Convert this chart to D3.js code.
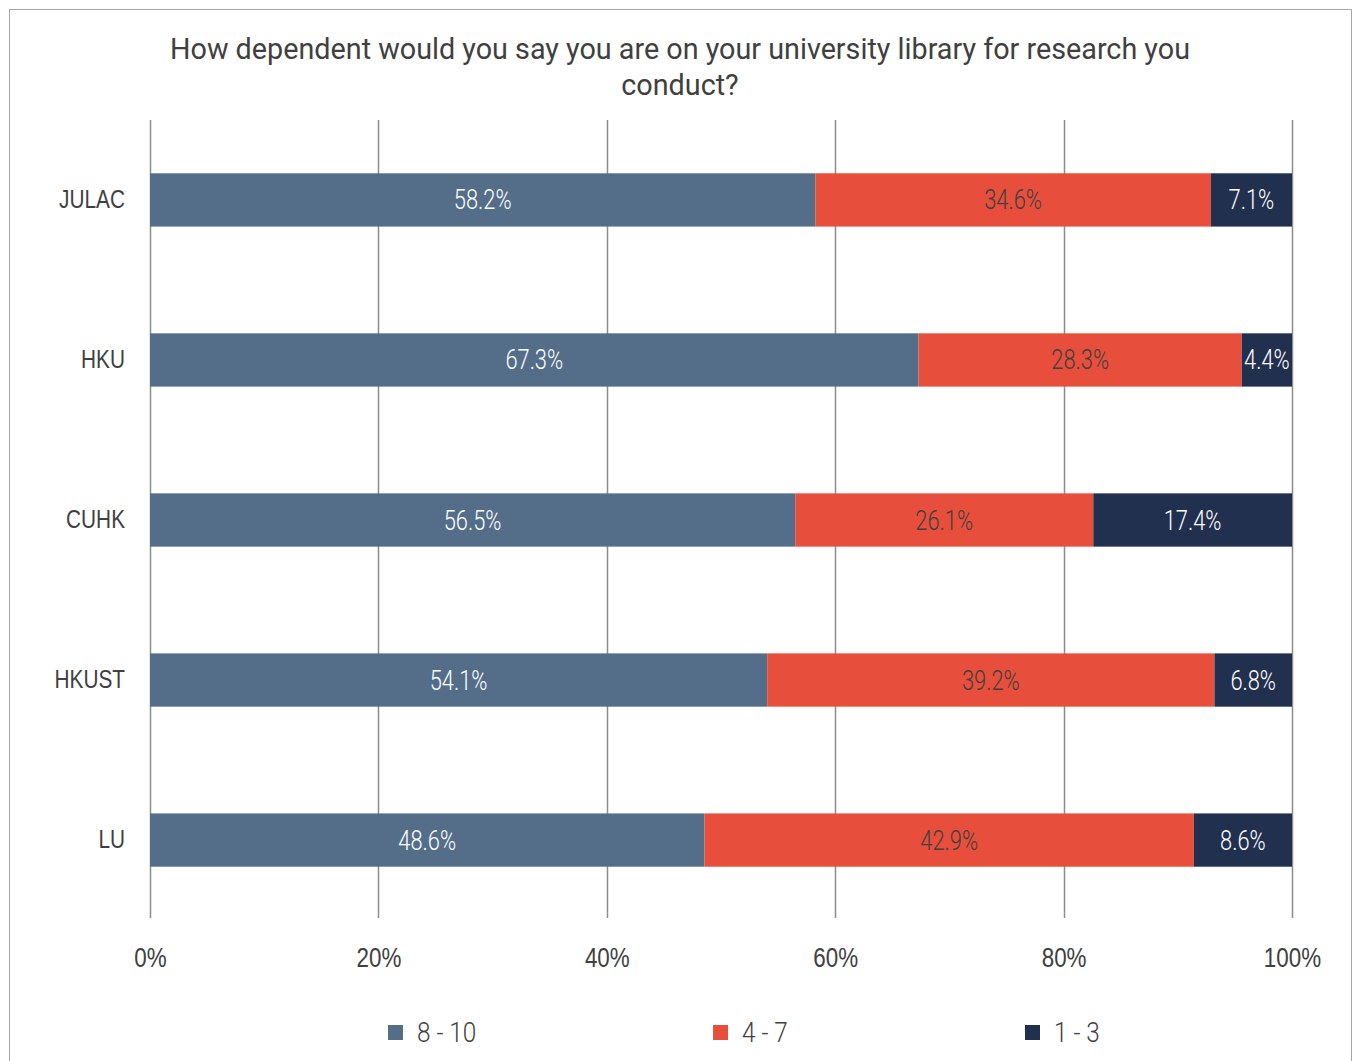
<!DOCTYPE html>
<html><head><meta charset="utf-8">
<script src="https://cdn.jsdelivr.net/npm/d3@7"></script>
<style>
body{margin:0;background:#fff;}
svg{display:block;font-family:"Roboto","Liberation Sans",sans-serif;}
</style></head>
<body><svg id="c" width="1353" height="1061"></svg>
<script>
const categories = ["JULAC","HKU","CUHK","HKUST","LU"];
const seriesNames = ["8 - 10","4 - 7","1 - 3"];
const high = [58.2,67.3,56.5,54.1,48.6];
const mid = [34.6,28.3,26.1,39.2,42.9];
const low = [7.1,4.4,17.4,6.8,8.6];
const tickValues = [0,0.2,0.4,0.6,0.8,1];
const colors = ["#546E8A","#E84E3C","#22304F"];
const labelColors = ["#ffffff","#404040","#ffffff"];
const title = ["How dependent would you say you are on your university library for research you","conduct?"];

const svg = d3.select("#c");
svg.append("rect").attr("x",9.5).attr("y",9.5).attr("width",1342).attr("height",1060)
  .attr("fill","#fff").attr("stroke","#a6a6a6").attr("stroke-width",1);

const rows = categories.map((c,i)=>({cat:c,"8 - 10":high[i],"4 - 7":mid[i],"1 - 3":low[i]}));
const stack = d3.stack().keys(seriesNames).offset(d3.stackOffsetExpand)(rows);

const x = d3.scaleLinear().domain([0,1]).range([150,1292]);
const y = d3.scaleBand().domain(categories).range([120,920]).paddingInner(0.667).paddingOuter(0.333);

function condense(sel, k){
  sel.each(function(){
    const w = this.getComputedTextLength();
    d3.select(this).attr("textLength", w*k).attr("lengthAdjust","spacingAndGlyphs");
  });
}

// title
const titleText = svg.append("text").attr("text-anchor","middle")
  .attr("fill","#404040").style("font-size","29px")
  .selectAll("tspan").data(title).join("tspan")
  .attr("x",680).attr("y",(d,i)=>59+i*36).text(d=>d);
const kTitle = 1020 / titleText.nodes()[0].getComputedTextLength();
condense(titleText, kTitle);

// gridlines
svg.append("g").selectAll("line").data(tickValues).join("line")
  .attr("x1",d=>Math.round(x(d))+0.5).attr("x2",d=>Math.round(x(d))+0.5)
  .attr("y1",120).attr("y2",918).attr("stroke","#8c8c8c").attr("stroke-width",1.5);

// bars
const g = svg.append("g");
stack.forEach((s,si)=>{
  const sg = g.append("g");
  sg.selectAll("rect").data(s).join("rect")
    .attr("x",d=>x(d[0])).attr("width",d=>x(d[1])-x(d[0]))
    .attr("y",d=>y(d.data.cat)).attr("height",y.bandwidth())
    .attr("fill",colors[si]);
  const t = sg.selectAll("text").data(s).join("text")
    .attr("x",d=>(x(d[0])+x(d[1]))/2).attr("y",d=>y(d.data.cat)+y.bandwidth()/2+9.5)
    .attr("text-anchor","middle").attr("fill",labelColors[si])
    .style("font-size","27px").style("font-weight","300")
    .text((d,i)=>[high,mid,low][si][i].toFixed(1)+"%");
  condense(t, 0.81);
});

// category axis
const yAxis = svg.append("g").attr("transform","translate(125,0)")
  .call(d3.axisLeft(y).tickSize(0).tickPadding(0));
yAxis.select(".domain").remove();
yAxis.selectAll("text").attr("fill","#404040").style("font-size","26px").style("font-weight","500")
  .style("font-family","inherit").attr("dy",null).attr("y",8);
condense(yAxis.selectAll("text"), 0.8);

// x axis
const xAxis = svg.append("g").attr("transform","translate(0,967)")
  .call(d3.axisBottom(x).tickValues(tickValues).tickFormat(d3.format(".0%")).tickSize(0).tickPadding(0));
xAxis.select(".domain").remove();
xAxis.selectAll("text").attr("fill","#404040").style("font-size","28px").style("font-weight","500")
  .style("font-family","inherit").attr("dy",null).attr("y",0);
condense(xAxis.selectAll("text"), 0.8);

// legend
const legX = [388,713,1025];
const leg = svg.append("g").selectAll("g").data(seriesNames).join("g")
  .attr("transform",(d,i)=>`translate(${legX[i]},1025)`);
leg.append("rect").attr("width",15).attr("height",15).attr("fill",(d,i)=>colors[i]);
const lt = leg.append("text").attr("x",29).attr("y",17).attr("fill","#404040")
  .style("font-size","27px").style("font-weight","300").text(d=>d);
condense(lt, 0.9);
</script></body></html>
